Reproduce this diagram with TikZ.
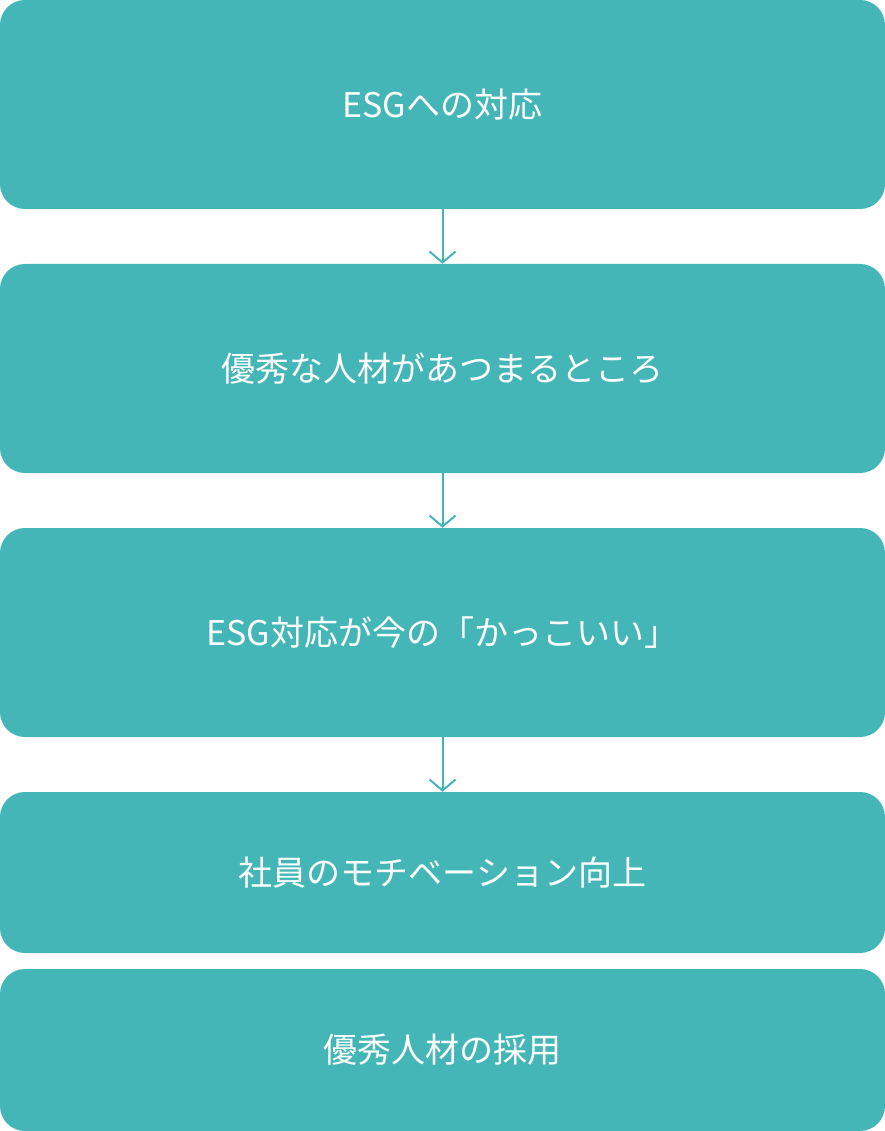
\documentclass[tikz,border=0pt]{standalone}
\usepackage{fontspec}
\setmainfont{Noto Sans CJK JP}
\usetikzlibrary{arrows.meta}
\definecolor{teal}{HTML}{45B6B7}
\begin{document}
\begin{tikzpicture}[x=1pt,y=-1pt,
	stepbox/.style={fill=teal,rounded corners=25pt,minimum width=885pt,text=white,font=\fontsize{34}{40}\selectfont,inner sep=0pt},
	flow/.style={draw=teal,line width=2pt,-{Straight Barb[length=11pt,width=26pt,line width=2pt]}}]

	\useasboundingbox (0,0) rectangle (885,1131);
	\node[stepbox,minimum height=209pt] (esg) at (442.5,104.5) {ESGへの対応};
	\node[stepbox,minimum height=209pt] (talent) at (442.5,368.5) {優秀な人材があつまるところ};
	\node[stepbox,minimum height=209pt] (cool) at (442.5,632.5) {ESG対応が今の「かっこいい」};
	\node[stepbox,minimum height=161pt] (motiv) at (442.5,872.5) {社員のモチベーション向上};
	\node[stepbox,minimum height=162pt] (hire) at (442.5,1050) {優秀人材の採用};

	\draw[flow] (esg) -- (talent);
	\draw[flow] (talent) -- (cool);
	\draw[flow] (cool) -- (motiv);

\end{tikzpicture}
\end{document}
